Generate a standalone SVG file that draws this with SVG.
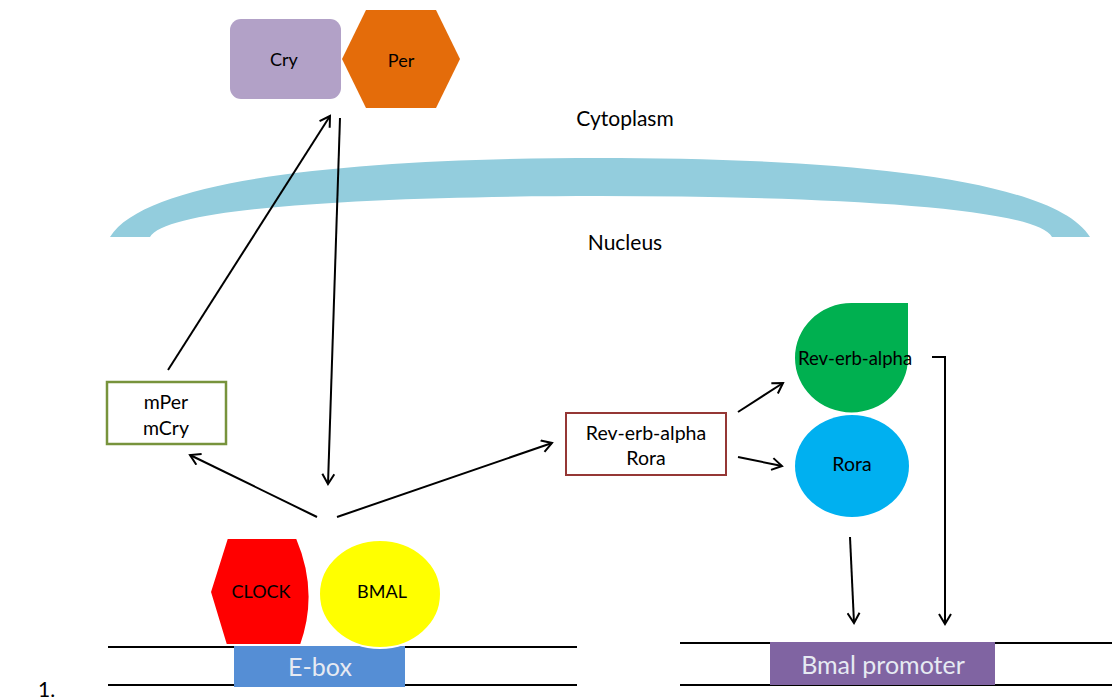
<svg xmlns="http://www.w3.org/2000/svg" width="1112" height="700" viewBox="0 0 1112 700">
<defs>
<marker id="ah" markerWidth="14" markerHeight="14" refX="11" refY="7" orient="auto" markerUnits="userSpaceOnUse">
<path d="M1,1 L11,7 L1,13" fill="none" stroke="#000" stroke-width="2"/>
</marker>
<style>
text{font-family:Lato,"Open Sans","Liberation Sans",sans-serif;fill:#000;text-anchor:middle;dominant-baseline:central}
.c{fill:none;stroke:#000;stroke-width:2}
.dna{stroke:#000;stroke-width:2}
.lbl{font-size:18px}
.bl{font-size:19.5px}
</style>
</defs>
<rect width="1112" height="700" fill="#fff"/>
<path id="membrane" d="M110,237 C150,172 400,158 600,158 C800,158 1050,172 1090,237 L1052,237 C1035,205 800,196 600,196 C400,196 168,205 150,237 Z" fill="#93CDDD"/>
<text x="625" y="117" style="font-size:21px">Cytoplasm</text>
<text x="625" y="241" style="font-size:21px">Nucleus</text>
<g id="dna">
<line class="dna" x1="108" y1="647" x2="577" y2="647"/>
<line class="dna" x1="108" y1="685" x2="577" y2="685"/>
<line class="dna" x1="680" y1="643" x2="1112" y2="643"/>
<line class="dna" x1="680" y1="685" x2="1112" y2="685"/>
</g>
<g id="cry"><rect x="230" y="19" width="111" height="80" rx="11" fill="#B2A1C7"/><text x="284" y="59" class="lbl">Cry</text></g>
<g id="per"><polygon points="342,59 366,10 436,10 460,59 436,108 366,108" fill="#E46C0A"/><text x="401" y="60" class="lbl">Per</text></g>
<g id="mpermcry"><rect x="107" y="382" width="119" height="62" fill="#fff" stroke="#77933C" stroke-width="2.5"/><text x="166" y="401" class="bl">mPer</text><text x="166" y="427" class="bl">mCry</text></g>
<g id="revrora"><rect x="566" y="413" width="160" height="62" fill="#fff" stroke="#953735" stroke-width="2"/><text x="646" y="432" class="bl">Rev-erb-alpha</text><text x="646" y="457" class="bl">Rora</text></g>
<g id="reverbalpha"><path d="M795,358 A56.5,54.5 0 0 1 851.5,303 L908,303 L908,358 A56.5,54.5 0 0 1 795,358 Z" fill="#00B050"/><text x="855" y="358" class="lbl" style="font-size:18.5px">Rev-erb-alpha</text></g>
<g id="rora"><ellipse cx="852" cy="466" rx="57" ry="51" fill="#00B0F0"/><text x="852" y="463" class="bl">Rora</text></g>
<g id="ebox"><rect x="234" y="646" width="171" height="41" fill="#558ED5"/><text x="320" y="666" style="font-size:25px;fill:#E6EAF2">E-box</text></g>
<g id="clock"><path d="M227,538 L297,538 Q320,592 301,645 L226,645 L210,592 Z" fill="#FF0000" stroke="#fff" stroke-width="2"/><text x="261" y="591" class="lbl">CLOCK</text></g>
<g id="bmal"><ellipse cx="380" cy="594" rx="61" ry="54" fill="#FFFF00" stroke="#fff" stroke-width="2"/><text x="382" y="591" class="lbl">BMAL</text></g>
<g id="bmalpromoter"><rect x="770" y="642" width="225" height="43" fill="#8064A2"/><text x="883" y="664" style="font-size:25px;fill:#E6EAF2">Bmal promoter</text></g>
<text x="38" y="688" style="font-size:21px;text-anchor:start">1.</text>
<g id="connectors">
<line class="c" x1="168" y1="370" x2="330" y2="116" marker-end="url(#ah)"/>
<line class="c" x1="340" y1="118" x2="328" y2="484" marker-end="url(#ah)"/>
<line class="c" x1="317" y1="517" x2="190" y2="455" marker-end="url(#ah)"/>
<line class="c" x1="337" y1="517" x2="552" y2="443" marker-end="url(#ah)"/>
<line class="c" x1="738" y1="412" x2="783" y2="383" marker-end="url(#ah)"/>
<line class="c" x1="738" y1="457" x2="782" y2="466" marker-end="url(#ah)"/>
<line class="c" x1="850" y1="537" x2="854" y2="623" marker-end="url(#ah)"/>
<polyline class="c" points="932,357 945,357 945,624" marker-end="url(#ah)"/>
</g>
</svg>
